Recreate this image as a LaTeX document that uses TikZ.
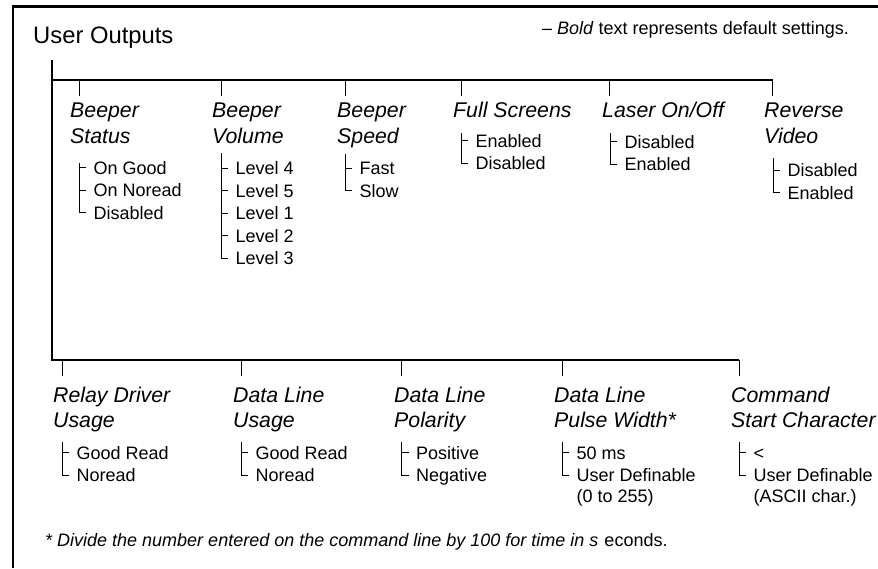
\documentclass[tikz,border=0pt]{standalone}
\usepackage{fontspec}
\setmainfont{Liberation Sans}

% two lines stacked, the box's baseline being that of the first line
\newcommand\twoline[2]{\vtop{\hbox{#1}\hbox{#2}}}

% bracket of option nodes: #1 top coordinate, #2 all options, #3 last option
\newcommand\optbracket[3]{%
  \draw[thinl] (#1) |- ([xshift=-7.5pt,yshift=6.5pt]#3.base west);
  \foreach \o in {#2}{\draw[thinl] ([xshift=-14.5pt,yshift=6.5pt]\o.base west) -- ++(7,0);}%
}

\begin{document}
\begin{tikzpicture}[x=1pt,y=-1pt,
  framel/.style={line width=2.3pt},
  trunkl/.style={line width=2.3pt},
  thinl/.style={line width=0.9pt},
  titlel/.style={font=\fontsize{23.8}{28}\selectfont, anchor=base west, inner sep=0},
  notel/.style={font=\fontsize{18}{22}\selectfont, anchor=base west, inner sep=0},
  lbl/.style={font=\fontsize{21.3}{25.5}\selectfont\itshape, anchor=base west, inner sep=0},
  optn/.style={font=\fontsize{18}{21}\selectfont, anchor=base west, inner sep=0},
]
\useasboundingbox (0,0) rectangle (878,568);

% page frame
\coordinate (fbl) at (13,568);
\coordinate (ftl) at (13,6.5);
\coordinate (ftr) at (878,6.5);
\draw[framel] (fbl) -- (ftl) -- (ftr);

\node[titlel] (title) at (33,43) {User Outputs};
\node[notel] (note) at (542,34) {– \textit{Bold} text represents default settings.};

% menu trunk
\coordinate (ttop) at (52,60);
\coordinate (tup) at (52,80);
\coordinate (tupr) at (773,80);
\coordinate (tlow) at (52,360);
\coordinate (tlowr) at (739,360);
\draw[trunkl] (ttop) -- (tlow) -- (tlowr);
\draw[trunkl] (tup) -- (tupr);

% upper branches
\foreach \x/\n in {79/a,221/b,345/c,461/d,609/e,772/f}{
  \coordinate (u\n) at (\x,80);
  \draw[thinl] (u\n) -- ++(0,16);
}
\node[lbl] (la) at (70,117.5) {\twoline{Beeper}{Status}};
\node[lbl] (lb) at (212,117.5) {\twoline{Beeper}{Volume}};
\node[lbl] (lc) at (337,117.5) {\twoline{Beeper}{Speed}};
\node[lbl] (ld) at (453,117) {Full Screens};
\node[lbl] (le) at (602,117) {Laser On/Off};
\node[lbl] (lf) at (764,117.5) {\twoline{Reverse}{Video}};

% Beeper Status
\coordinate (ba) at (79,163);
\node[optn] (a1) at (93.5,174) {On Good};
\node[optn] (a2) at (93.5,196.5) {On Noread};
\node[optn] (a3) at (93.5,219) {Disabled};
\optbracket{ba}{a1,a2,a3}{a3}

% Beeper Volume
\coordinate (bb) at (221,153);
\node[optn] (b1) at (235.5,174.5) {Level 4};
\node[optn] (b2) at (235.5,197) {Level 5};
\node[optn] (b3) at (235.5,219.5) {Level 1};
\node[optn] (b4) at (235.5,242) {Level 2};
\node[optn] (b5) at (235.5,264.5) {Level 3};
\optbracket{bb}{b1,b2,b3,b4,b5}{b5}

% Beeper Speed
\coordinate (bc) at (345,154);
\node[optn] (c1) at (359.5,174.5) {Fast};
\node[optn] (c2) at (359.5,197) {Slow};
\optbracket{bc}{c1,c2}{c2}

% Full Screens
\coordinate (bd) at (461,133);
\node[optn] (d1) at (475.5,147) {Enabled};
\node[optn] (d2) at (475.5,169.5) {Disabled};
\optbracket{bd}{d1,d2}{d2}

% Laser On/Off
\coordinate (be) at (610,133);
\node[optn] (e1) at (624.5,148) {Disabled};
\node[optn] (e2) at (624.5,170.5) {Enabled};
\optbracket{be}{e1,e2}{e2}

% Reverse Video
\coordinate (bf) at (773,158);
\node[optn] (f1) at (787.5,176.5) {Disabled};
\node[optn] (f2) at (787.5,199) {Enabled};
\optbracket{bf}{f1,f2}{f2}

% lower branches
\foreach \x/\n in {62/g,241/h,401.5/i,562/j,739/k}{
  \coordinate (w\n) at (\x,360);
  \draw[thinl] (w\n) -- ++(0,16);
}
\node[lbl] (lg) at (53,402) {\twoline{Relay Driver}{Usage}};
\node[lbl] (lh) at (233,402) {\twoline{Data Line}{Usage}};
\node[lbl] (li) at (394,402) {\twoline{Data Line}{Polarity}};
\node[lbl] (lj) at (554,402) {\twoline{Data Line}{Pulse Width*}};
\node[lbl] (lk) at (731,402) {\twoline{Command}{Start Character}};

% Relay Driver Usage
\coordinate (bg) at (62,442);
\node[optn] (g1) at (76.5,459) {Good Read};
\node[optn] (g2) at (76.5,481.5) {Noread};
\optbracket{bg}{g1,g2}{g2}

% Data Line Usage
\coordinate (bh) at (241,442);
\node[optn] (h1) at (255.5,459) {Good Read};
\node[optn] (h2) at (255.5,481.5) {Noread};
\optbracket{bh}{h1,h2}{h2}

% Data Line Polarity
\coordinate (bi) at (401.5,442);
\node[optn] (i1) at (416,459) {Positive};
\node[optn] (i2) at (416,481.5) {Negative};
\optbracket{bi}{i1,i2}{i2}

% Data Line Pulse Width
\coordinate (bj) at (562,442);
\node[optn] (j1) at (576.5,459) {50 ms};
\node[optn] (j2) at (576.5,481.5) {\twoline{User Definable}{(0 to 255)}};
\optbracket{bj}{j1,j2}{j2}

% Command Start Character
\coordinate (bk) at (739,442);
\node[optn] (k1) at (753.5,459) {<};
\node[optn] (k2) at (753.5,481.5) {\twoline{User Definable}{(ASCII char.)}};
\optbracket{bk}{k1,k2}{k2}

\node[notel] (foot) at (45,546) {\textit{* Divide the number entered on the command line by 100 for time in s}\hspace{6pt}econds.};
\end{tikzpicture}
\end{document}
